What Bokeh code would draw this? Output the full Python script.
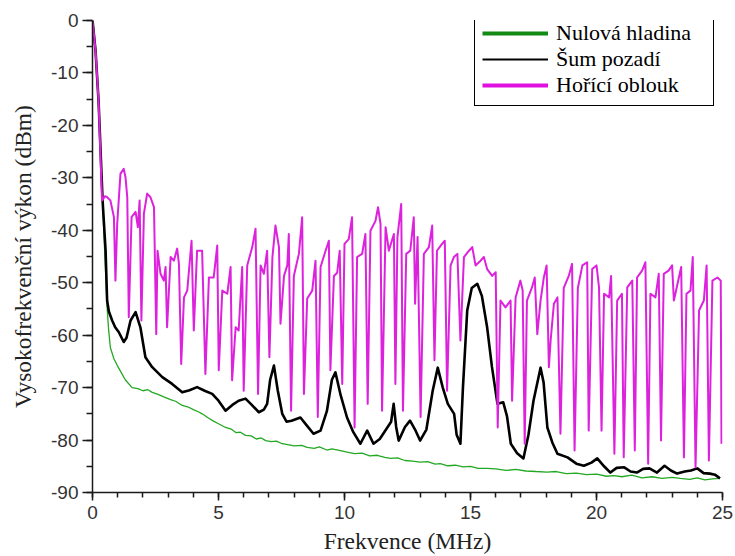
from bokeh.plotting import figure
from bokeh.models import Range1d, SingleIntervalTicker, Legend, LegendItem, CustomJSTickFormatter
from bokeh.embed import file_html
from bokeh.resources import INLINE

# Spectrum traces: (frequency in MHz, power in dBm)
noise_floor = [
    (0, 0), (0.12, -6), (0.24, -15.5), (0.4, -34.5), (0.5, -46), (0.58, -54.7),
    (0.64, -59), (0.71, -62.4), (0.85, -64.5), (1.03, -66.2), (1.3, -68.5),
    (1.57, -70), (1.8, -70.2), (2.0, -70.6), (2.2, -70.4), (2.37, -70.9),
    (2.6, -71.3), (2.9, -71.9), (3.1, -72.3), (3.3, -72.6), (3.56, -73.4),
    (3.8, -73.7), (4.0, -74.2), (4.2, -74.6), (4.35, -75), (4.6, -75.8),
    (4.8, -76.4), (5.0, -76.9), (5.28, -77.6), (5.5, -77.9), (5.7, -78.6),
    (5.87, -78.5), (6.07, -79.1), (6.3, -79.2), (6.5, -79.8), (6.7, -79.6),
    (6.87, -80.1), (7.1, -80.3), (7.3, -80.2), (7.53, -80.7), (7.8, -80.9),
    (8.0, -81.1), (8.3, -81.0), (8.52, -81.4), (8.8, -81.6), (9.0, -81.3),
    (9.3, -81.9), (9.5, -81.7), (9.84, -82.0), (10.1, -82.3), (10.4, -82.6),
    (10.7, -82.5), (11.0, -83.0), (11.3, -82.9), (11.6, -83.3), (11.83, -83.5),
    (12.1, -83.4), (12.4, -83.9), (12.7, -84.0), (13.0, -84.2), (13.3, -84.1),
    (13.6, -84.6), (13.8, -84.5), (14.1, -84.9), (14.4, -84.8), (14.7, -85.1),
    (15.0, -85.0), (15.3, -85.4), (15.66, -85.4), (16.0, -85.5), (16.4, -85.8),
    (16.8, -85.6), (17.2, -85.9), (17.6, -86.0), (18.04, -86.1), (18.4, -86.0),
    (18.8, -86.4), (19.2, -86.3), (19.6, -86.6), (20.0, -86.5), (20.4, -86.9),
    (20.7, -86.8), (21.0, -87.0), (21.4, -86.7), (21.8, -87.2), (22.2, -87.0),
    (22.6, -87.3), (23.0, -87.1), (23.33, -87.3), (23.7, -87.5), (24.0, -87.2),
    (24.3, -87.6), (24.6, -87.4), (24.9, -87.3),
]

background = [
    (0, 0), (0.12, -5.7), (0.24, -15.3), (0.4, -34.3), (0.44, -37.5), (0.52, -43.9),
    (0.58, -53.4), (0.65, -55.5), (0.78, -57.2), (0.9, -58.5), (1.04, -59.4),
    (1.24, -61.3), (1.35, -60.5), (1.51, -57.2), (1.71, -55.6), (1.9, -58.5),
    (2.1, -64.2), (2.37, -66.1), (2.77, -68), (3.16, -69.3), (3.56, -70.9),
    (3.85, -70.5), (4.15, -69.9), (4.45, -70.6), (4.75, -71.2), (5.0, -72.5),
    (5.28, -74.4), (5.55, -73.3), (5.8, -72.5), (6.07, -72.1), (6.3, -73.2),
    (6.6, -74.7), (6.8, -74.2), (6.93, -73.1), (7.05, -68.5), (7.2, -65.8),
    (7.35, -70.5), (7.53, -75), (7.7, -76.5), (7.9, -76.3), (8.25, -75.7),
    (8.5, -77.2), (8.77, -78.8), (9.05, -78.2), (9.3, -74.5), (9.5, -68.5),
    (9.64, -67.1), (9.85, -71.5), (10.1, -75.7), (10.35, -78.5), (10.63, -80.7),
    (10.9, -78.2), (11.15, -80.7), (11.4, -79.8), (11.7, -77.6), (11.85, -76.5),
    (11.95, -73.1), (12.05, -77.5), (12.15, -80.1), (12.4, -77.5), (12.6, -76.3),
    (12.8, -78), (13.0, -80.1), (13.25, -78), (13.5, -70.6), (13.7, -66.2),
    (13.9, -70), (14.1, -73.1), (14.35, -75), (14.45, -79), (14.6, -80.7),
    (14.7, -70), (14.87, -55.3), (15.05, -51), (15.27, -50.2), (15.45, -52.5),
    (15.66, -58.5), (15.85, -66), (16.07, -73.1), (16.3, -72.8), (16.45, -75.5),
    (16.6, -80.7), (16.85, -82.5), (17.1, -83.5), (17.3, -79), (17.5, -72.5),
    (17.78, -66.2), (17.9, -69), (18.05, -77.6), (18.25, -80.5), (18.45, -82.6),
    (18.85, -83.3), (19.2, -84.5), (19.5, -84.9), (19.8, -84.3), (20.03, -83.5),
    (20.3, -85), (20.55, -86.2), (20.8, -85.3), (21.1, -85.2), (21.35, -86),
    (21.6, -86.2), (21.85, -85.5), (22.1, -85.4), (22.4, -86.2), (22.7, -84.9),
    (22.95, -85.8), (23.2, -86.4), (23.5, -86), (23.75, -85.8), (24.0, -85.4),
    (24.25, -86.3), (24.5, -86.4), (24.7, -86.6), (24.9, -87.3),
]

arc = [
    (0, 0), (0.12, -5.7), (0.24, -15.3), (0.38, -34.3), (0.5, -33.5), (0.58, -33.7),
    (0.71, -34.3), (0.85, -37.5), (0.91, -49.6), (0.98, -38.8), (1.11, -29.2),
    (1.24, -28.3), (1.31, -29.9), (1.38, -33.7), (1.44, -56.6), (1.55, -37.5),
    (1.71, -36.5), (1.8, -39.4), (1.87, -34.3), (1.94, -57.2), (2.04, -36.8),
    (2.17, -33), (2.3, -33.7), (2.44, -35.6), (2.53, -59.8), (2.58, -43.9),
    (2.7, -48.3), (2.83, -49.6), (2.9, -47), (2.96, -58.5), (3.1, -45.1),
    (3.23, -45.8), (3.36, -43.5), (3.43, -46.4), (3.52, -65.5), (3.63, -52.8),
    (3.76, -51.5), (3.93, -42), (4.02, -59.1), (4.15, -43.9), (4.35, -43.9),
    (4.48, -67.4), (4.62, -49), (4.81, -49), (4.95, -42.9), (5.01, -66.7),
    (5.15, -51.5), (5.35, -52.1), (5.48, -47), (5.54, -68.6), (5.68, -58.5),
    (5.8, -59.1), (5.94, -47), (6.0, -70.6), (6.14, -46.7), (6.34, -43.2),
    (6.47, -39.7), (6.57, -71.2), (6.67, -46.7), (6.8, -48.3), (6.93, -43.9),
    (7.02, -64.2), (7.14, -45.1), (7.26, -39.1), (7.4, -43.2), (7.46, -57.8),
    (7.6, -48.7), (7.73, -46.7), (7.79, -40.7), (7.88, -74.4), (7.99, -48.7),
    (8.19, -44.5), (8.32, -37.5), (8.39, -71.2), (8.52, -53), (8.72, -51.5),
    (8.85, -45.8), (8.94, -75.6), (9.05, -47), (9.25, -43.9), (9.38, -42),
    (9.44, -66.7), (9.58, -48.7), (9.71, -48.1), (9.81, -43.9), (9.91, -69.3),
    (10.0, -42.6), (10.17, -41.7), (10.3, -37.5), (10.4, -77.6), (10.5, -45.1),
    (10.7, -44.5), (10.83, -40.7), (10.92, -73.1), (11.03, -40.1), (11.23, -38.2),
    (11.33, -35.6), (11.43, -38.8), (11.49, -74.4), (11.63, -39.4), (11.76, -43.9),
    (11.96, -40.7), (12.02, -69.3), (12.1, -41.3), (12.25, -35), (12.32, -74.4),
    (12.45, -44.5), (12.61, -43.9), (12.75, -37.5), (12.8, -54), (12.9, -41.3),
    (13.02, -75.6), (13.15, -44.5), (13.35, -43.2), (13.48, -39.1), (13.57, -64.8),
    (13.67, -43.9), (13.87, -42.6), (13.98, -42), (14.07, -70.6), (14.21, -46.7),
    (14.34, -45.1), (14.48, -44.5), (14.6, -61), (14.74, -45.1), (14.94, -43.9),
    (15.07, -43.2), (15.2, -46.7), (15.4, -45.8), (15.53, -45.1), (15.66, -47.4),
    (15.86, -48.7), (16.0, -48), (16.08, -77.6), (16.19, -53.4), (16.39, -54.7),
    (16.59, -53.4), (16.65, -72.5), (16.79, -52.8), (16.98, -49.6), (17.07, -51.5),
    (17.15, -80.7), (17.24, -53.4), (17.44, -50.9), (17.55, -49), (17.65, -59.8),
    (17.78, -53.4), (17.91, -49), (18.02, -46.7), (18.11, -66.1), (18.18, -61),
    (18.31, -54), (18.45, -52.8), (18.57, -78.8), (18.7, -51), (18.9, -48.7),
    (19.03, -46.4), (19.13, -82), (19.26, -51), (19.44, -46.7), (19.63, -46.1),
    (19.69, -78.2), (19.83, -47.4), (20.0, -46.7), (20.1, -50.9), (20.2, -78.2),
    (20.3, -52.1), (20.5, -52.8), (20.58, -48.7), (20.71, -82.6), (20.82, -53.4),
    (21.01, -52.1), (21.08, -83.3), (21.22, -50.9), (21.42, -49.6), (21.52, -82),
    (21.61, -49), (21.81, -47.7), (21.94, -46.1), (22.05, -84.5), (22.14, -52.1),
    (22.34, -52.8), (22.47, -48.3), (22.56, -80.1), (22.67, -48.3), (22.86, -47.7),
    (23.0, -46.7), (23.07, -53.4), (23.13, -52.1), (23.36, -47), (23.47, -83.3),
    (23.57, -52.1), (23.73, -51.5), (23.82, -45.1), (23.93, -85.2), (24.07, -55.3),
    (24.26, -53.4), (24.37, -46.7), (24.46, -83.9), (24.6, -49.6), (24.8, -49),
    (24.93, -49.6), (24.96, -80.7),
]

series_names = ["Nulová hladina", "Šum pozadí", "Hořící oblouk"]
series_colors = ["#22a822", "#000000", "#dd22dd"]
legend_colors = ["#138a13", "#000000", "#e010e0"]

x_ticks_interval = 5
y_ticks_interval = 10

SERIF = "Liberation Serif"
SANS = "Liberation Sans"

p = figure(
    width=735, height=556,
    x_range=Range1d(0, 25), y_range=Range1d(-90, 0),
    output_backend="svg", toolbar_location=None,
    min_border_left=92, min_border_right=13,
    min_border_top=20, min_border_bottom=64,
)
p.outline_line_color = None
p.background_fill_color = "white"
p.border_fill_color = "white"
p.xgrid.visible = False
p.ygrid.visible = False


def unzip(pairs):
    return [a for a, _ in pairs], [b for _, b in pairs]


gx, gy = unzip(noise_floor)
bx, by = unzip(background)
mx, my = unzip(arc)

p.line(gx, gy, line_color=series_colors[0], line_width=1.3)
p.line(bx, by, line_color=series_colors[1], line_width=2.6, line_join="round")
p.line(mx, my, line_color=series_colors[2], line_width=2.0, line_join="round")

# legend-only glyphs with heavier strokes (no visible points in the frame)
nan = float("nan")
leg_widths = [4, 2, 4]
items = []
for name, col, w in zip(series_names, legend_colors, leg_widths):
    r = p.line([nan, nan], [nan, nan], line_color=col, line_width=w)
    items.append(LegendItem(label=name, renderers=[r]))

legend = Legend(
    items=items, location=(382, 386),
    label_text_font=SERIF, label_text_font_size="22px", label_text_color="#000000",
    glyph_width=66, glyph_height=24, label_height=24, label_width=150,
    label_standoff=8, spacing=0, padding=7, margin=0,
    border_line_color="#000000", border_line_width=1.6, border_line_alpha=1.0,
    background_fill_color="white", background_fill_alpha=1.0,
)
p.add_layout(legend, "center")

plain_minus = CustomJSTickFormatter(code="return tick.toString();")

for ax in (p.xaxis[0], p.yaxis[0]):
    ax.axis_line_color = "#1a1a1a"
    ax.axis_line_width = 1.5
    ax.major_tick_line_color = "#1a1a1a"
    ax.minor_tick_line_color = "#1a1a1a"
    ax.major_tick_line_width = 1.5
    ax.minor_tick_line_width = 1.5
    ax.major_tick_in = 0
    ax.minor_tick_in = 0
    ax.formatter = plain_minus
    ax.major_label_text_font = SANS
    ax.major_label_text_font_size = "19px"
    ax.major_label_text_color = "#333333"
    ax.axis_label_text_font = SERIF
    ax.axis_label_text_font_size = "23.5px"
    ax.axis_label_text_font_style = "normal"
    ax.axis_label_text_color = "#222222"

p.xaxis.ticker = SingleIntervalTicker(interval=x_ticks_interval, num_minor_ticks=5)
p.yaxis.ticker = SingleIntervalTicker(interval=y_ticks_interval, num_minor_ticks=2)
p.xaxis.major_tick_out = 8
p.xaxis.minor_tick_out = 5
p.yaxis.major_tick_out = 10
p.yaxis.minor_tick_out = 6
p.xaxis.major_label_standoff = 5
p.yaxis.major_label_standoff = 4
p.xaxis.axis_label = "Frekvence (MHz)"
p.yaxis.axis_label = "Vysokofrekvenční výkon (dBm)"
p.xaxis.axis_label_standoff = 6
p.yaxis.axis_label_standoff = 12

open("out.html", "w").write(file_html(p, INLINE))
